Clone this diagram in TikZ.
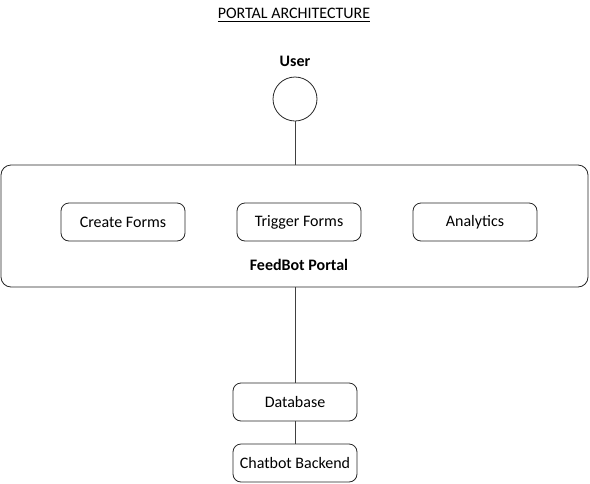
\documentclass[tikz,border=0pt]{standalone}
\usepackage{fontspec}
\setmainfont{Carlito}
\usepackage{tikz}
\usetikzlibrary{positioning}

\begin{document}
\begin{tikzpicture}[x=0.75pt,y=-0.75pt,font=\fontsize{12pt}{14pt}\selectfont]
	\tikzstyle{part}=[draw=black!85,line width=0.6pt,rounded corners=6pt,minimum width=93pt,minimum height=28.5pt,inner sep=0pt]
	\tikzstyle{link}=[draw=black!75,line width=0.6pt]
	\useasboundingbox (0,0) rectangle (590,483);
	\node(title) at (294,15) {\underline{PORTAL ARCHITECTURE}};
	\node[font=\fontsize{12pt}{14pt}\selectfont\bfseries](userlabel) at (295,61) {User};
	\node[circle,draw=black!85,line width=0.6pt,minimum size=33pt,inner sep=0pt](user) at (295,99) {};
	\node[draw=black!85,line width=0.6pt,rounded corners=7.5pt,minimum width=440.25pt,minimum height=91.5pt,inner sep=0pt](portal) at (294.5,226) {};
	\node[part](create) at (123,222) {Create Forms};
	\node[part](trigger) at (299,222) {Trigger Forms};
	\node[part](analytics) at (475,222) {Analytics};
	\node[font=\fontsize{12pt}{14pt}\selectfont\bfseries](portallabel) at (299,265) {FeedBot Portal};
	\node[part](db) at (295,402) {Database};
	\node[part](backend) at (295,463) {Chatbot Backend};
	\draw[link](user.south) -- (user.south |- portal.north);
	\draw[link](db.north |- portal.south) -- (db.north);
	\draw[link](db) -- (backend);
\end{tikzpicture}
\end{document}
